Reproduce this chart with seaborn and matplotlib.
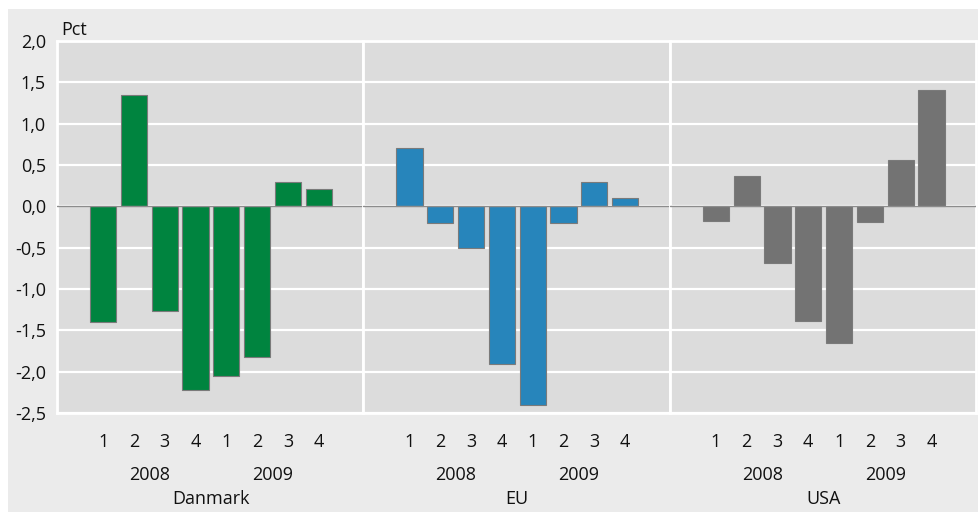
import pandas as pd
import matplotlib.pyplot as plt
import matplotlib.patches as mpatches
import matplotlib.transforms as mtransforms
import seaborn as sns

# ------------------------------------
# Data
# ------------------------------------
regions = ["Danmark", "EU", "USA"]
years = ["2008", "2009"]
quarters = ["1", "2", "3", "4"]

danmark = [-1.40, 1.35, -1.27, -2.22, -2.05, -1.82, 0.29, 0.21]
eu = [0.70, -0.20, -0.50, -1.90, -2.40, -0.20, 0.30, 0.10]
usa = [-0.18, 0.37, -0.68, -1.38, -1.65, -0.19, 0.56, 1.41]

colors = {"Danmark": "#00843f", "EU": "#2785bb", "USA": "#737373"}

yticks = [2.0, 1.5, 1.0, 0.5, 0.0, -0.5, -1.0, -1.5, -2.0, -2.5]

# ------------------------------------
# Build long table
# ------------------------------------
rows = []
for region, vals in zip(regions, [danmark, eu, usa]):
    i = 0
    for y in years:
        for q in quarters:
            rows.append({"region": region, "year": y, "quarter": q,
                         "key": f"{y}-{q}", "value": vals[i]})
            i += 1
df = pd.DataFrame(rows)
order = [f"{y}-{q}" for y in years for q in quarters]

# ------------------------------------
# Plot
# ------------------------------------
sns.set_theme(style="white")
plt.rcParams["font.family"] = ["Open Sans", "DejaVu Sans"]
plt.rcParams["text.color"] = "#111111"
plt.rcParams["xtick.color"] = "#111111"
plt.rcParams["ytick.color"] = "#111111"

FS = 13

fig, axes = plt.subplots(1, 3, figsize=(9.79, 5.12), dpi=100, sharey=True)
fig.patch.set_facecolor("white")
fig.subplots_adjust(left=0.0582, right=0.997, top=0.92, bottom=0.193, wspace=0)

# outer light gray panel
fig.patches.append(mpatches.Rectangle((8 / 979, 0), 1, 1 - 9 / 512,
                                      transform=fig.transFigure,
                                      facecolor="#ebebeb", edgecolor="none",
                                      zorder=-10))

for ax, region in zip(axes, regions):
    sub = df[df["region"] == region]
    ax.set_facecolor("#dcdcdc")
    sns.barplot(data=sub, x="key", y="value", order=order, ax=ax,
                color=colors[region], width=0.85, saturation=1,
                edgecolor="#7a7a7a", linewidth=0.8, zorder=3)
    ax.set_xlim(-1.5, 8.45)
    ax.set_ylim(-2.5, 2.0)
    ax.set_yticks(yticks)
    ax.yaxis.grid(True, color="white", linewidth=1.6, zorder=0)
    ax.set_axisbelow(True)
    ax.axhline(0, color="#8c8c8c", linewidth=1, zorder=4)
    ax.set_xlabel("")
    ax.set_ylabel("")
    ax.set_xticks(range(len(order)))
    ax.set_xticklabels([k.split("-")[1] for k in order], fontsize=FS)
    ax.tick_params(axis="x", length=0, pad=14)
    ax.tick_params(axis="y", length=0, pad=8)
    for s in ax.spines.values():
        s.set_color("white")
        s.set_linewidth(2)

    trans = mtransforms.blended_transform_factory(ax.transData, ax.transAxes)
    ax.text(1.5, -0.167, years[0], transform=trans, ha="center", va="center",
            fontsize=FS)
    ax.text(5.5, -0.167, years[1], transform=trans, ha="center", va="center",
            fontsize=FS)
    ax.text(3.5, -0.23, region, transform=trans, ha="center", va="center",
            fontsize=FS)

axes[0].set_yticklabels([f"{v:.1f}".replace(".", ",") for v in yticks],
                        fontsize=FS)
axes[0].text(0.013, 1.03, "Pct", transform=axes[0].transAxes,
             ha="left", va="center", fontsize=FS)

plt.savefig("out.png", dpi=100, facecolor=fig.get_facecolor())
plt.close()
